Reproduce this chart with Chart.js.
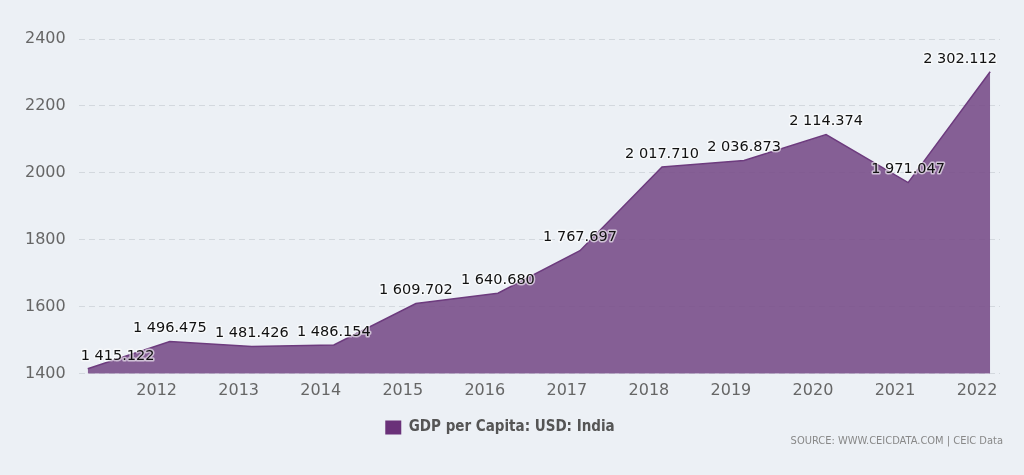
<!DOCTYPE html>
<html>
<head>
<meta charset="utf-8">
<script src="https://cdn.jsdelivr.net/npm/chart.js@4/dist/chart.umd.min.js"></script>
<style>
  html, body { margin: 0; padding: 0; background: #ecf0f5; }
  #wrap { position: relative; width: 1024px; height: 475px; }
  #source {
    position: absolute; right: 21px; top: 434px;
    font: 11px "DejaVu Sans Condensed", "DejaVu Sans", sans-serif; color: #888;
  }
</style>
</head>
<body>
<div id="wrap">
  <canvas id="myChart" width="1024" height="475"></canvas>
  <div id="source">SOURCE: WWW.CEICDATA.COM | CEIC Data</div>
</div>
<script>
// India GDP per capita, one observation per year (dated early in the year)
const years = [2011, 2012, 2013, 2014, 2015, 2016, 2017, 2018, 2019, 2020, 2021, 2022];
const gdpPerCapita = [1415.122, 1496.475, 1481.426, 1486.154, 1609.702, 1640.680,
                      1767.697, 2017.710, 2036.873, 2114.374, 1971.047, 2302.112];
const yTicks = [1400, 1600, 1800, 2000, 2200, 2400];
const obsOffset = 0.16; // fraction of a year after the year tick

const points = years.map((y, i) => ({ x: y + obsOffset, y: gdpPerCapita[i] }));

function fmt(v) {
    let parts = v.toFixed(3).split('.');
    let int = parts[0].replace(/\B(?=(\d{3})+(?!\d))/g, ' ');
    return int + '.' + parts[1];
}

const valueLabels = {
    id: 'valueLabels',
    afterDatasetsDraw(chart) {
        const c = chart.ctx;
        const area = chart.chartArea;
        const meta = chart.getDatasetMeta(0);
        c.save();
        c.font = '14.5px "DejaVu Sans", sans-serif';
        c.textAlign = 'center';
        c.textBaseline = 'middle';
        meta.data.forEach((pt, i) => {
            const txt = fmt(gdpPerCapita[i]);
            const w = c.measureText(txt).width;
            let x = pt.x;
            x = Math.max(area.left + w / 2 + 2, Math.min(area.right - w / 2 - 3, x));
            const y = pt.y - 13;
            c.lineWidth = 3;
            c.strokeStyle = 'rgba(255,255,255,0.6)';
            c.lineJoin = 'round';
            c.strokeText(txt, x, y);
            c.fillStyle = '#111';
            c.fillText(txt, x, y);
        });
        c.restore();
    }
};

// legend sits a little left of the canvas centre in the original
const legendShift = {
    id: 'legendShift',
    afterLayout(chart) {
        chart.legend.left -= 6;
        chart.legend.right -= 6;
    }
};

const ctx = document.getElementById('myChart');

new Chart(ctx, {
    type: 'line',
    data: {
        datasets: [{
            label: 'GDP per Capita: USD: India',
            data: points,
            borderColor: '#6d3b7e',
            borderWidth: 1.5,
            backgroundColor: 'rgba(118, 74, 136, 0.88)',
            fill: 'start',
            pointRadius: 0,
            tension: 0
        }]
    },
    plugins: [valueLabels, legendShift],
    options: {
        responsive: false,
        animation: false,
        layout: {
            padding: { left: 12, right: 24, top: 39, bottom: 30 }
        },
        plugins: {
            tooltip: { enabled: false },
            legend: {
                display: true,
                position: 'bottom',
                labels: {
                    color: '#555',
                    boxWidth: 16,
                    boxHeight: 14,
                    padding: 10,
                    font: { family: '"DejaVu Sans Condensed", "DejaVu Sans", sans-serif', size: 15, weight: 'bold' },
                    generateLabels: function(chart) {
                        return [{
                            text: 'GDP per Capita: USD: India',
                            fillStyle: '#6a3179',
                            strokeStyle: '#6a3179',
                            lineWidth: 0,
                            fontColor: '#555',
                            datasetIndex: 0
                        }];
                    }
                }
            }
        },
        scales: {
            x: {
                type: 'linear',
                min: 2011.05,
                max: 2022.28,
                grid: { display: false, drawTicks: false, tickLength: 0 },
                border: { display: false },
                afterBuildTicks: function(axis) {
                    axis.ticks = years.slice(1).map(v => ({ value: v }));
                },
                afterFit: function(axis) {
                    axis.height += 3;
                },
                ticks: {
                    color: '#666',
                    padding: 7,
                    maxRotation: 0,
                    font: { family: '"DejaVu Sans", sans-serif', size: 16 },
                    callback: function(value) { return String(value); }
                }
            },
            y: {
                min: 1400,
                max: 2400,
                border: { display: false, dash: [6, 4] },
                grid: { color: '#d3d8de', drawTicks: false, lineWidth: 1 },
                afterBuildTicks: function(axis) {
                    axis.ticks = yTicks.map(v => ({ value: v }));
                },
                ticks: {
                    color: '#666',
                    padding: 13,
                    font: { family: '"DejaVu Sans", sans-serif', size: 16 },
                    callback: function(value) { return String(value); }
                }
            }
        }
    }
});
</script>
</body>
</html>
